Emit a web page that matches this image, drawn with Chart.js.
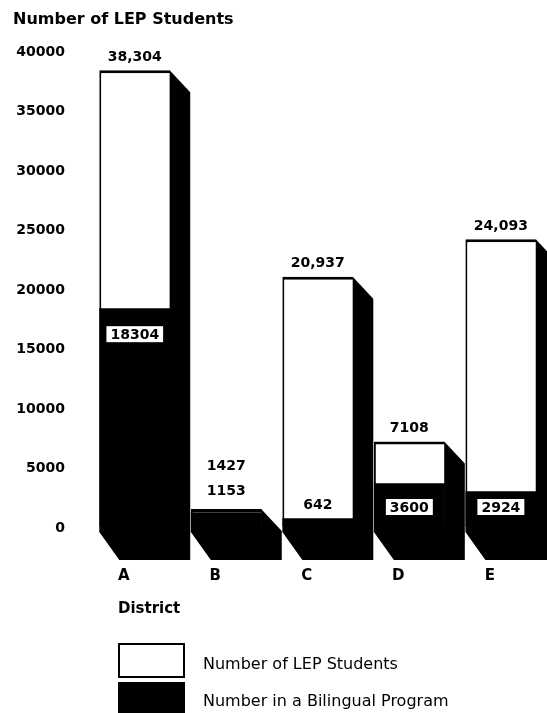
<!DOCTYPE html>
<html>
<head>
<meta charset="utf-8">
<title>LEP Students by District</title>
<script src="https://cdn.jsdelivr.net/npm/chart.js@4.4.1/dist/chart.umd.min.js"></script>
<style>
  html, body { margin: 0; padding: 0; background: #fff; }
  #wrap { position: relative; width: 547px; height: 713px; overflow: hidden;
          font-family: "DejaVu Sans", sans-serif; color: #000; }
  #chart { position: absolute; left: 0; top: 0; }
  .axis-title { position: absolute; font-weight: bold; white-space: nowrap; }
  #yTitle { left: 13px; top: 11px; font-size: 16px; line-height: 16px; }
  #xTitle { left: 118px; top: 601px; font-size: 15px; line-height: 15px; }
  .lg-box { position: absolute; left: 118px; width: 67px; height: 35px; box-sizing: border-box; }
  .lg-text { position: absolute; left: 203px; font-size: 16px; line-height: 16px; white-space: nowrap; }
</style>
</head>
<body>
<div id="wrap">
  <canvas id="chart" width="547" height="713"></canvas>
  <div id="yTitle" class="axis-title">Number of LEP Students</div>
  <div id="xTitle" class="axis-title">District</div>
  <div id="legend"></div>
</div>
<script>
// Districts and their student counts
const districts = ['A', 'B', 'C', 'D', 'E'];
const lepStudents = [38304, 1427, 20937, 7108, 24093];
const inBilingual = [18304, 1153, 642, 3600, 2924];
const yTickValues = [0, 5000, 10000, 15000, 20000, 25000, 30000, 35000, 40000];
const seriesNames = ['Number of LEP Students', 'Number in a Bilingual Program'];

const INK = '#000000';
const PAPER = '#ffffff';
const DEPTH_X = 20;

Chart.defaults.font.family = "'DejaVu Sans', sans-serif";
Chart.defaults.color = INK;

// Black extrusion of every bar: right side and underside, drawn flush
// against the front face so no seam shows between them
const depthPlugin = {
  id: 'depth',
  afterDatasetsDraw(chart) {
    const meta = chart.getDatasetMeta(1);
    const ctx = chart.ctx;
    ctx.save();
    ctx.fillStyle = INK;
    meta.data.forEach(bar => {
      const { x, y, base, width } = bar.getProps(['x', 'y', 'base', 'width'], true);
      const x0 = x - width / 2, x1 = x + width / 2;
      ctx.beginPath();
      ctx.moveTo(x1 - 0.6, y);
      ctx.lineTo(x1 + DEPTH_X, y + 22);
      ctx.lineTo(x1 + DEPTH_X, base + 34);
      ctx.lineTo(x0 + DEPTH_X, base + 34);
      ctx.lineTo(x0, base + 6);
      ctx.lineTo(x0, base - 0.6);
      ctx.lineTo(x1 - 0.6, base - 0.6);
      ctx.closePath();
      ctx.fill();
    });
    ctx.restore();
  }
};

function formatTotal(v) {
  return v >= 10000 ? v.toLocaleString('en-US') : String(v);
}

// Value annotations for both series
const valuePlugin = {
  id: 'values',
  afterDatasetsDraw(chart) {
    const ctx = chart.ctx;
    const bil = chart.getDatasetMeta(0).data;
    const tot = chart.getDatasetMeta(1).data;
    const bilVals = chart.data.datasets[0].data;
    const totVals = chart.data.datasets[1].data;
    ctx.save();
    ctx.font = "bold 14px 'DejaVu Sans', sans-serif";
    ctx.textAlign = 'center';
    ctx.textBaseline = 'middle';
    tot.forEach((tEl, i) => {
      const t = tEl.getProps(['x', 'y', 'base'], true);
      const b = bil[i].getProps(['y'], true);
      const blackH = t.base - b.y;
      const whiteH = b.y - t.y;
      const bText = String(bilVals[i]);
      const tText = formatTotal(totVals[i]);
      let totalY = t.y - 13;
      if (blackH > 28) {
        const cy = Math.min(b.y + 26, t.base - 19);
        const w = ctx.measureText(bText).width + 8;
        ctx.fillStyle = PAPER;
        ctx.fillRect(t.x - w / 2, cy - 8, w, 16);
        ctx.fillStyle = INK;
        ctx.fillText(bText, t.x, cy + 1);
      } else if (whiteH > 40) {
        ctx.fillStyle = INK;
        ctx.fillText(bText, t.x, b.y - 13);
      } else {
        ctx.fillStyle = INK;
        ctx.fillText(bText, t.x, t.y - 18);
        totalY = t.y - 43;
      }
      ctx.fillStyle = INK;
      ctx.fillText(tText, t.x, totalY);
    });
    ctx.restore();
  }
};

const chart = new Chart(document.getElementById('chart'), {
  type: 'bar',
  data: {
    labels: districts,
    datasets: [
      {
        label: seriesNames[1],
        data: inBilingual,
        backgroundColor: INK,
        borderWidth: 0,
        grouped: false
      },
      {
        label: seriesNames[0],
        data: lepStudents,
        backgroundColor: PAPER,
        borderColor: INK,
        borderWidth: { top: 3, left: 2, right: 0, bottom: 0 },
        grouped: false
      }
    ]
  },
  options: {
    responsive: false,
    animation: false,
    devicePixelRatio: 1,
    layout: { padding: { top: 50, right: 0, bottom: 0, left: 0 } },
    datasets: { bar: { categoryPercentage: 1, barPercentage: 0.775 } },
    plugins: {
      legend: { display: false },
      title: { display: false },
      tooltip: { enabled: false }
    },
    scales: {
      x: {
        grid: { display: false, drawTicks: false },
        border: { display: false },
        ticks: {
          padding: 41,
          labelOffset: -11,
          font: { size: 15, weight: 'bold' },
          color: INK
        },
        afterFit(scale) { scale.height = 187; }
      },
      y: {
        min: 0,
        max: 40000,
        grid: { display: false, drawTicks: false },
        border: { display: false },
        afterBuildTicks(scale) { scale.ticks = yTickValues.map(v => ({ value: v })); },
        ticks: {
          padding: 24,
          labelOffset: 2,
          font: { size: 14, weight: 'bold' },
          color: INK,
          callback: v => String(v)
        },
        afterFit(scale) { scale.width = 89; }
      }
    }
  },
  plugins: [depthPlugin, valuePlugin]
});

// Legend built from the chart's datasets, LEP total first
const legend = document.getElementById('legend');
const legendRows = [{ boxTop: 643, textTop: 656 }, { boxTop: 682, textTop: 693 }];
chart.data.datasets.slice().reverse().forEach((ds, i) => {
  const box = document.createElement('div');
  box.className = 'lg-box';
  box.style.top = legendRows[i].boxTop + 'px';
  box.style.background = ds.backgroundColor;
  box.style.border = '2px solid ' + INK;
  const txt = document.createElement('div');
  txt.className = 'lg-text';
  txt.style.top = legendRows[i].textTop + 'px';
  txt.textContent = ds.label;
  legend.appendChild(box);
  legend.appendChild(txt);
});
</script>
</body>
</html>
